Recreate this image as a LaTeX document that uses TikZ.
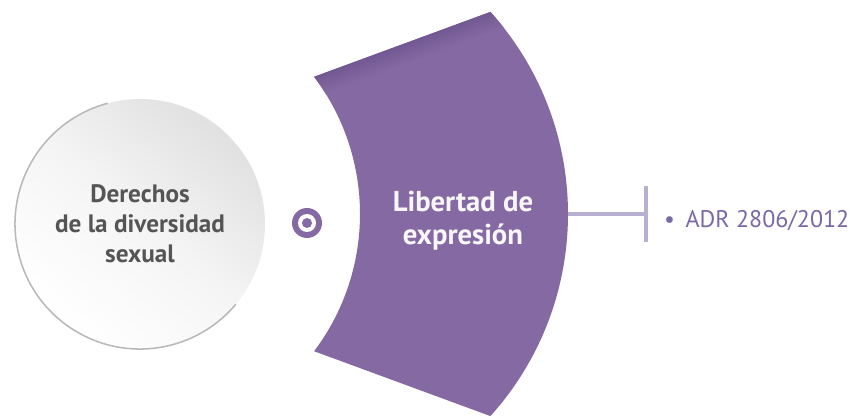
\documentclass[tikz,border=0pt]{standalone}
\usepackage{fontspec}
\setmainfont{PT Sans}
\usepackage{tikz}
\usetikzlibrary{positioning}
\usetikzlibrary{calc}

\definecolor{lila}{HTML}{8569A2}
\definecolor{lilaDark}{HTML}{6F5690}
\definecolor{lilaLine}{HTML}{B9AFD1}
\definecolor{lilaText}{HTML}{7A67A6}
\definecolor{greyText}{HTML}{555555}

\tikzset{
	circtext/.style={font=\bfseries\fontsize{21.5pt}{25.6pt}\selectfont, text=greyText, align=center},
	sectext/.style={font=\bfseries\fontsize{24.5pt}{28.2pt}\selectfont, text=white!94!lila, align=center},
	reftext/.style={font=\fontsize{20.5pt}{22pt}\selectfont, text=lilaText, anchor=base west, inner sep=0pt},
	linkline/.style={lilaLine, line width=2.6pt},
}

\begin{document}
\begin{tikzpicture}[x=0.03cm, y=0.03cm]
		
		% ---------------------
		% Proper size --- Bounding box
		\useasboundingbox (0, 0) rectangle (852, 419);
		
		% ---------------------
		% Circle & sector centres
		
		\coordinate (Circ) at (140, 195);
		\coordinate (Inner) at (132, 205);
		\coordinate (Outer) at (266, 205);
		
		\path (Inner) +(37:228) coordinate (TL);
		\path (Inner) +(-37:228) coordinate (BL);
		\path (Outer) +(42:302) coordinate (TR);
		\path (Outer) +(0:302) coordinate (Right);
		
		\path (Right) +(78, 0) coordinate (Bar);
		\path (Bar) +(0, 28) coordinate (BarTop);
		\path (Bar) +(0, -28) coordinate (BarBot);
		
		% ---------------------
		% Circle
		
		\shade[top color=black!12, bottom color=white, middle color=black!4, shading angle=-40] (Circ) circle (125);
		\draw[black!28, line width=1.3pt] (Circ) +(105:125) arc[start angle=105, end angle=320, radius=125];
		
		\node[circtext] (Derechos) at (Circ) {Derechos\\de la diversidad\\sexual};
		
		% ---------------------
		% Sector
		
		\fill[lila] (TL) -- (TR) arc[start angle=42, end angle=-42, radius=302]
			-- (BL) arc[start angle=-37, end angle=37, radius=228] -- cycle;
		\begin{scope}
			\clip (TL) -- (TR) arc[start angle=42, end angle=-42, radius=302]
				-- (BL) arc[start angle=-37, end angle=37, radius=228] -- cycle;
			\begin{scope}[transform canvas={shift={(TL)}, rotate=20.3}]
				\shade[top color=lilaDark, bottom color=lila] (-20, -20) rectangle (220, 3);
			\end{scope}
		\end{scope}
		
		\node[sectext] (Libertad) at (463, 198) {Libertad de\\expresión};
		
		% ---------------------
		% Target
		
		\node[circle, fill=lila, minimum size=0.9cm, inner sep=0pt] (Target) at (307, 196) {};
		\fill[white] (Target) circle (9);
		\fill[lila] (Target) circle (5);
		
		% ---------------------
		% Reference
		
		\draw[linkline] (Right) -- (Bar);
		\draw[linkline] (BarTop) -- (BarBot);
		
		\node[reftext, right=0.54cm of Bar, yshift=-6pt] (ADR) {\textbullet\hspace{9pt}ADR 2806/2012};
		
\end{tikzpicture}
\end{document}
